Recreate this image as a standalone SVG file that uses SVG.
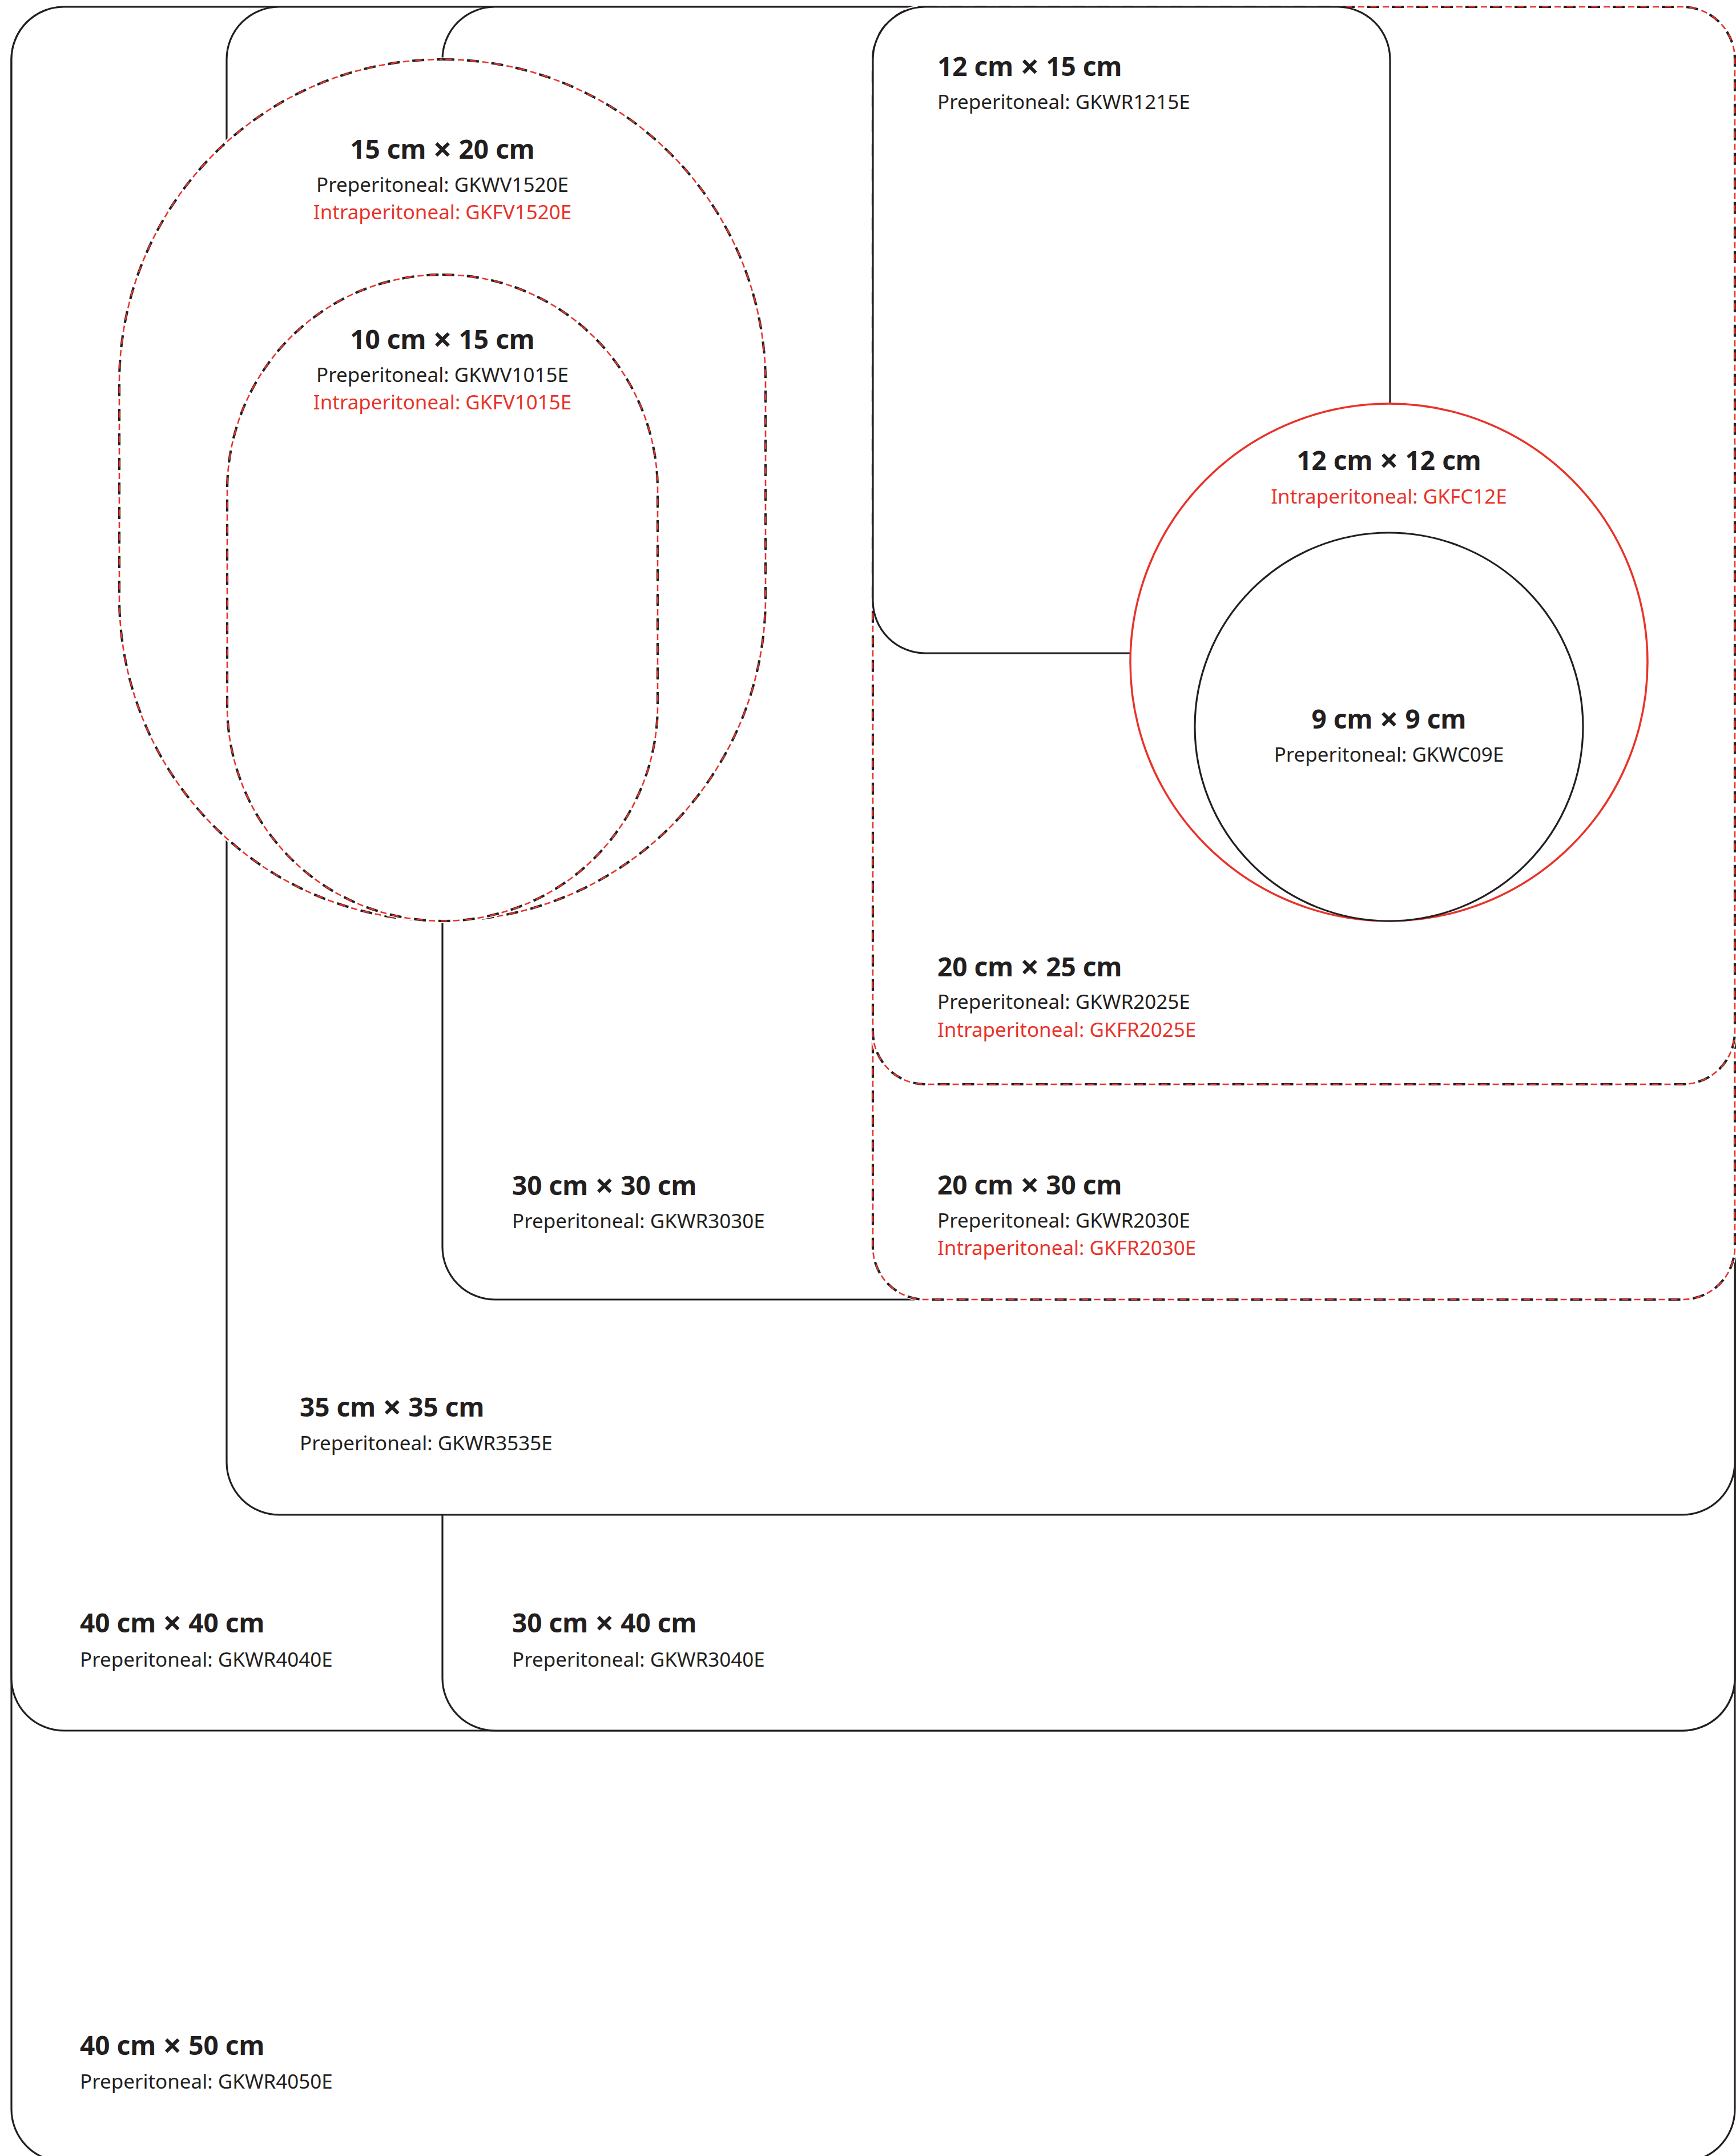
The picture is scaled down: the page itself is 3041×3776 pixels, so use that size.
<svg xmlns="http://www.w3.org/2000/svg" xmlns:xlink="http://www.w3.org/1999/xlink" width="3041" height="3776" viewBox="0 0 3041 3776">
<style>
.s{fill:#fff;stroke:#231f20;stroke-width:3.2}
.dw{fill:#fff;stroke:#fff;stroke-width:7}
.dk{fill:none;stroke:#231f20;stroke-width:4.2;stroke-dasharray:21 22}
.dr{fill:none;stroke:#e8332a;stroke-width:2.6;stroke-dasharray:11 10.5;stroke-dashoffset:16}
.rc{fill:#fff;stroke:#e8332a;stroke-width:3.5}
.t{font-family:"Noto Sans","Open Sans","Liberation Sans",sans-serif;font-weight:700;font-size:46px;fill:#231f20}
.x{font-size:58px}
.p{font-family:"Noto Sans","Open Sans","Liberation Sans",sans-serif;font-size:35px;fill:#231f20}
.i{font-family:"Noto Sans","Open Sans","Liberation Sans",sans-serif;font-size:35px;fill:#e8332a}
.m{text-anchor:middle}
</style>
<defs>
<rect id="r2030" x="1529" y="12" width="1510" height="2264" rx="92"/>
<rect id="r2025" x="1529" y="12" width="1510" height="1887" rx="92"/>
<rect id="v1520" x="209" y="104" width="1132" height="1509" rx="566"/>
<rect id="v1015" x="398" y="481" width="754" height="1132" rx="377"/>
</defs>
<rect width="3041" height="3776" fill="#fff"/>

<g id="n4050">
<rect class="s" x="20" y="12" width="3019" height="3774" rx="92"/>
<text class="t" x="140" y="3599">40 cm <tspan class="x" dy="4">×</tspan><tspan dy="-4"> 50 cm</tspan></text>
<text class="p" x="140" y="3658">Preperitoneal: GKWR4050E</text>
</g>

<g id="n4040">
<rect class="s" x="20" y="12" width="3019" height="3019" rx="92"/>
<text class="t" x="140" y="2859">40 cm <tspan class="x" dy="4">×</tspan><tspan dy="-4"> 40 cm</tspan></text>
<text class="p" x="140" y="2919">Preperitoneal: GKWR4040E</text>
</g>

<g id="n3040">
<rect class="s" x="775" y="12" width="2264" height="3019" rx="92"/>
<text class="t" x="897" y="2859">30 cm <tspan class="x" dy="4">×</tspan><tspan dy="-4"> 40 cm</tspan></text>
<text class="p" x="897" y="2919">Preperitoneal: GKWR3040E</text>
</g>

<g id="n3535">
<rect class="s" x="397" y="12" width="2642" height="2641" rx="92"/>
<text class="t" x="525" y="2481">35 cm <tspan class="x" dy="4">×</tspan><tspan dy="-4"> 35 cm</tspan></text>
<text class="p" x="525" y="2540">Preperitoneal: GKWR3535E</text>
</g>

<g id="n3030">
<rect class="s" x="775" y="12" width="2264" height="2264" rx="92"/>
<text class="t" x="897" y="2093">30 cm <tspan class="x" dy="4">×</tspan><tspan dy="-4"> 30 cm</tspan></text>
<text class="p" x="897" y="2151">Preperitoneal: GKWR3030E</text>
</g>

<g id="n2030">
<use href="#r2030" xlink:href="#r2030" class="dw"/>
<use href="#r2030" xlink:href="#r2030" class="dk"/>
<use href="#r2030" xlink:href="#r2030" class="dr"/>
<text class="t" x="1642" y="2092">20 cm <tspan class="x" dy="4">×</tspan><tspan dy="-4"> 30 cm</tspan></text>
<text class="p" x="1642" y="2150">Preperitoneal: GKWR2030E</text>
<text class="i" x="1642" y="2198">Intraperitoneal: GKFR2030E</text>
</g>

<g id="n2025">
<use href="#r2025" xlink:href="#r2025" class="dw"/>
<use href="#r2025" xlink:href="#r2025" class="dk"/>
<use href="#r2025" xlink:href="#r2025" class="dr"/>
<text class="t" x="1642" y="1710">20 cm <tspan class="x" dy="4">×</tspan><tspan dy="-4"> 25 cm</tspan></text>
<text class="p" x="1642" y="1767">Preperitoneal: GKWR2025E</text>
<text class="i" x="1642" y="1816">Intraperitoneal: GKFR2025E</text>
</g>

<g id="n1215">
<rect class="s" x="1529" y="12" width="906" height="1132" rx="92"/>
<text class="t" x="1642" y="133">12 cm <tspan class="x" dy="4">×</tspan><tspan dy="-4"> 15 cm</tspan></text>
<text class="p" x="1642" y="191">Preperitoneal: GKWR1215E</text>
</g>

<g id="n1520">
<use href="#v1520" xlink:href="#v1520" class="dw"/>
<use href="#v1520" xlink:href="#v1520" class="dk"/>
<use href="#v1520" xlink:href="#v1520" class="dr"/>
<text class="t m" x="775" y="278">15 cm <tspan class="x" dy="4">×</tspan><tspan dy="-4"> 20 cm</tspan></text>
<text class="p m" x="775" y="336">Preperitoneal: GKWV1520E</text>
<text class="i m" x="775" y="384">Intraperitoneal: GKFV1520E</text>
</g>

<g id="n1015">
<use href="#v1015" xlink:href="#v1015" class="dw"/>
<use href="#v1015" xlink:href="#v1015" class="dk"/>
<use href="#v1015" xlink:href="#v1015" class="dr"/>
<text class="t m" x="775" y="611">10 cm <tspan class="x" dy="4">×</tspan><tspan dy="-4"> 15 cm</tspan></text>
<text class="p m" x="775" y="669">Preperitoneal: GKWV1015E</text>
<text class="i m" x="775" y="717">Intraperitoneal: GKFV1015E</text>
</g>

<g id="n1212">
<circle class="rc" cx="2433" cy="1160" r="453"/>
<text class="t m" x="2433" y="823">12 cm <tspan class="x" dy="4">×</tspan><tspan dy="-4"> 12 cm</tspan></text>
<text class="i m" x="2433" y="882">Intraperitoneal: GKFC12E</text>
</g>

<g id="n0909">
<circle class="s" cx="2433" cy="1273" r="340"/>
<text class="t m" x="2433" y="1276">9 cm <tspan class="x" dy="4">×</tspan><tspan dy="-4"> 9 cm</tspan></text>
<text class="p m" x="2433" y="1334">Preperitoneal: GKWC09E</text>
</g>
</svg>
